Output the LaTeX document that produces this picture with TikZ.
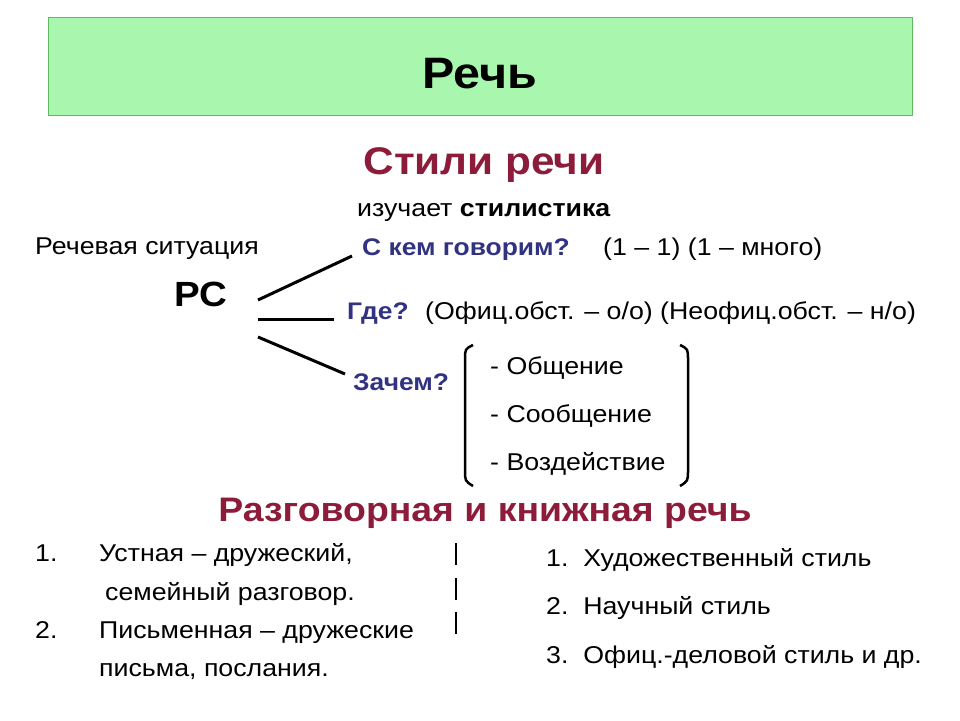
\documentclass[tikz,border=0pt]{standalone}
\usepackage{fontspec}
\setmainfont[FakeStretch=1.1]{Liberation Sans}
\definecolor{boxgreen}{RGB}{169,247,174}
\definecolor{boxedge}{RGB}{96,184,96}
\definecolor{maroon}{RGB}{140,28,58}
\definecolor{navy}{RGB}{50,50,130}
\tikzset{
    txt/.style={anchor=base west, inner sep=0pt, font=\fontsize{24.3}{28}\selectfont},
    ques/.style={txt, font=\fontsize{24}{28}\selectfont\bfseries, text=navy},
    head/.style={anchor=base, inner sep=0pt, font=\fontsize{34}{40}\selectfont\bfseries, text=maroon},
    branch/.style={line width=3pt},
}
\begin{document}
\begin{tikzpicture}[x=1pt, y=-1pt]

        \useasboundingbox (0,0) rectangle (960,720);

        \def\lw{2.5pt}

        % title box
        \draw [boxedge, fill=boxgreen, line width=1pt] (48,17) rectangle (912,115);
        \node (title) [anchor=base, inner sep=0pt, font=\fontsize{44}{50}\selectfont\bfseries] at (480,88) {Речь};

        \node (styles) [head, font=\fontsize{38.5}{44}\selectfont\bfseries] at (484,174) {Стили речи};
        \node (study) [txt] at (357,216) {изучает \textbf{стилистика}};

        \node (sit) [txt] at (35,254) {Речевая ситуация};
        \node (rs) [anchor=base, inner sep=0pt, font=\fontsize{35}{40}\selectfont\bfseries] at (201,306) {РС};

        % questions
        \node (who) [ques] at (362,255) {С кем говорим?};
        \node (whonum) [txt] at (603,255) {(1 – 1) (1 – много)};
        \node (where) [ques] at (347,319) {Где?};
        \node (wherenum) [txt] at (425,319) {(Офиц.обст. – о/о) (Неофиц.обст. – н/о)};
        \node (why) [ques] at (353,390) {Зачем?};

        \coordinate (b1s) at (258,300);
        \coordinate (b1e) at (352,256);
        \coordinate (b2s) at (258,319);
        \coordinate (b2e) at (334,319);
        \coordinate (b3s) at (258,337);
        \coordinate (b3e) at (345,374);
        \draw [branch] (b1s) -- (b1e);
        \draw [branch] (b2s) -- (b2e);
        \draw [branch] (b3s) -- (b3e);

        % bracket with goals
        \node (goal1) [txt] at (490,374) {- Общение};
        \node (goal2) [txt] at (490,422) {- Сообщение};
        \node (goal3) [txt] at (490,470) {- Воздействие};
        \draw [line width=\lw] (473,345) .. controls (465,349) .. (465,360) -- (465,470) .. controls (465,481) .. (473,486);
        \draw [line width=\lw] (680,345) .. controls (688,349) .. (688,360) -- (688,470) .. controls (688,481) .. (680,486);

        \node (talk) [head] at (485,521) {Разговорная и книжная речь};

        % left list
        \node (n1) [txt] at (35,561) {1.};
        \node (oral) [txt] at (99,561) {Устная – дружеский,};
        \node (oral2) [txt] at (105,600) {семейный разговор.};
        \node (n2) [txt] at (35,638) {2.};
        \node (writ) [txt] at (99,638) {Письменная – дружеские};
        \node (writ2) [txt] at (99,676) {письма, послания.};

        % separator
        \draw [line width=\lw] (456,543) -- (456,565);
        \draw [line width=\lw] (456,578) -- (456,600);
        \draw [line width=\lw] (456,612) -- (456,634);

        % right list
        \node (art) [txt] at (546,566) {1.\ \ Художественный стиль};
        \node (sci) [txt] at (546,614) {2.\ \ Научный стиль};
        \node (off) [txt] at (546,663) {3.\ \ Офиц.-деловой стиль и др.};

    \end{tikzpicture}
\end{document}
